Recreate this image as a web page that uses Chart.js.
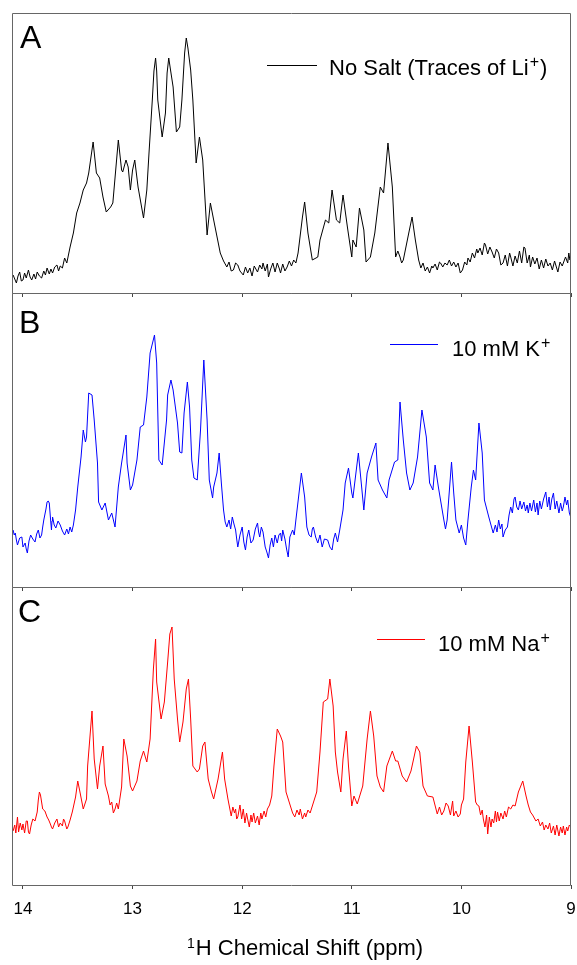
<!DOCTYPE html>
<html><head><meta charset="utf-8">
<script src="https://cdn.jsdelivr.net/npm/chart.js@4"></script>
<style>
html,body{margin:0;padding:0;background:#fff;width:577px;height:965px;overflow:hidden}
canvas{position:absolute;left:0}
</style></head><body>
<canvas id="cA" width="577" height="300" style="top:0px"></canvas>
<canvas id="cB" width="577" height="301" style="top:293px"></canvas>
<canvas id="cC" width="577" height="378" style="top:587px"></canvas>
<script>
// ---- data (chemical shift in ppm, intensity in arbitrary units) ----
const xTicks = [14, 13, 12, 11, 10, 9];

const shiftA = [
14.09,14.075,14.06,14.045,14.03,14.015,14.00,13.985,13.97,13.95,
13.935,13.92,13.90,13.885,13.87,13.85,13.83,13.81,13.795,13.78,
13.76,13.745,13.73,13.71,13.69,13.675,13.66,13.64,
13.62,13.60,13.57,13.54,13.51,13.48,13.45,13.42,13.40,13.36,
13.33,13.30,13.27,13.24,13.20,13.18,13.13,13.10,13.09,13.06,
13.04,13.02,13.00,12.98,12.95,12.90,12.87,12.85,12.82,12.805,
12.79,12.78,12.77,12.73,12.70,12.685,12.67,12.655,12.63,12.60,
12.57,12.55,12.525,12.51,12.495,12.47,12.45,12.42,12.39,12.36,
12.32,12.29,12.26,
12.20,12.17,12.14,12.12,12.10,12.08,12.06,12.04,12.02,11.99,
11.97,11.95,11.93,11.91,11.89,11.86,11.84,11.82,11.81,11.79,
11.77,11.76,11.74,11.72,11.70,11.68,11.66,11.65,11.63,11.61,
11.59,11.57,11.55,11.53,11.51,11.49,
11.45,11.43,11.40,11.36,11.31,11.29,11.24,11.21,11.18,11.14,
11.11,11.08,11.04,11.00,10.99,10.96,10.93,10.89,10.87,10.83,
10.79,10.74,10.71,10.67,10.63,10.60,10.58,10.56,10.545,10.53,
10.48,10.45,10.42,
10.39,10.37,10.35,10.33,10.31,10.29,10.27,10.26,10.24,10.22,
10.20,10.19,10.17,10.15,10.13,10.11,10.09,10.07,10.05,10.03,
10.01,9.99,9.97,9.95,9.94,9.92,9.90,9.88,9.86,9.85,
9.83,9.81,9.79,9.78,9.76,9.74,9.72,9.70,9.68,9.66,
9.64,9.62,9.60,9.58,9.56,9.55,9.53,9.51,9.49,9.47,
9.45,9.43,9.42,9.40,9.38,9.37,9.35,9.33,9.31,9.29,
9.27,9.25,9.23,9.21,9.19,9.17,9.15,9.12,9.10,9.08,
9.07,9.05,9.03,9.02,9.01,9.00];
const noSalt = [
18,14,10,17,21,12,13,20,15,23,
16,13,19,14,21,17,15,22,18,25,
19,24,20,26,28,22,27,25,
35,30,46,60,80,90,103,110,120,151,
120,115,96,81,86,90,153,123,121,133,
126,103,123,133,106,75,103,140,193,222,
235,222,193,156,180,220,235,224,206,161,
166,193,240,255,245,223,193,130,156,133,
58,90,73,
40,32,26,31,22,23,30,28,22,18,
26,20,25,17,27,21,28,24,30,22,
29,16,24,30,21,30,24,20,29,22,
26,32,27,33,30,40,
76,91,60,33,36,53,73,70,103,73,
70,98,66,36,53,46,85,63,31,36,
60,106,100,150,106,36,42,36,30,33,
60,76,53,
33,25,30,22,26,20,27,25,29,23,
31,30,26,30,28,33,27,31,26,30,
20,23,31,28,35,31,40,35,44,40,
45,38,50,48,39,46,41,35,44,40,
28,30,38,27,40,36,27,37,30,42,
30,46,45,30,38,26,36,29,35,24,
33,25,34,27,30,23,32,21,31,27,
30,36,30,40,33,35];

const shiftB = [
14.09,14.08,14.07,14.06,14.05,14.03,14.01,14.00,13.98,13.97,
13.96,13.945,13.93,13.91,13.89,13.875,13.86,13.845,13.83,13.82,
13.81,13.79,13.78,13.77,13.76,13.75,13.74,13.735,13.73,13.715,
13.70,13.68,13.66,13.64,13.62,13.60,13.585,13.57,13.555,13.54,
13.52,13.50,13.47,13.45,13.43,13.42,13.40,13.37,13.35,13.32,
13.31,13.28,13.25,13.22,13.19,13.16,13.13,13.10,13.06,13.05,
13.02,13.00,12.96,12.93,12.90,12.87,12.84,12.80,12.78,12.76,
12.73,12.69,12.68,12.65,12.63,12.59,12.57,12.55,12.53,12.50,
12.48,12.46,12.44,12.41,12.38,12.35,12.32,12.30,12.27,12.26,
12.23,12.21,12.19,
12.17,12.155,12.14,12.12,12.105,12.09,12.075,12.06,12.05,12.04,
12.02,12.00,11.985,11.97,11.955,11.94,11.92,11.90,11.88,11.86,
11.85,11.84,11.825,11.81,11.79,11.775,11.76,11.745,11.73,11.715,
11.70,11.68,11.665,11.65,11.64,11.63,11.61,11.595,11.58,11.565,
11.54,11.525,11.51,
11.46,11.43,
11.41,11.39,11.37,11.36,11.35,11.33,11.31,11.29,11.27,11.25,
11.22,11.20,11.18,11.165,11.15,11.13,11.11,
11.08,11.06,11.03,11.00,10.99,10.94,10.91,10.89,10.86,10.82,
10.78,10.76,10.72,10.68,10.66,10.61,10.58,10.56,10.53,10.50,
10.47,10.44,10.40,10.36,10.32,10.29,10.26,10.24,10.21,10.16,
10.145,10.13,10.09,10.07,10.05,10.02,10.00,9.98,9.96,9.94,
9.91,9.89,9.87,9.84,9.81,9.79,9.75,
9.71,9.69,9.675,9.66,9.645,9.63,9.62,9.60,9.58,9.565,
9.55,9.535,9.52,9.51,9.495,9.48,9.465,9.45,9.43,9.415,
9.40,9.39,9.375,9.36,9.34,9.325,9.31,9.30,9.285,9.27,
9.25,9.23,9.215,9.20,9.19,9.175,9.16,9.145,9.13,9.11,
9.095,9.08,9.07,9.055,9.04,9.03,9.015,9.00];
const potassium = [
57,52,54,47,42,49,50,40,44,38,
34,46,52,48,45,53,57,49,52,60,
67,78,85,86,84,70,57,66,70,62,
59,66,62,56,52,58,53,60,55,62,
77,100,130,157,145,150,194,192,167,124,
85,77,84,67,74,60,100,124,152,124,
97,102,127,160,162,190,234,252,224,127,
122,167,192,207,197,164,135,134,174,205,
180,127,109,107,157,227,167,107,89,100,
114,134,104,
77,65,60,67,58,70,63,57,48,40,
52,60,45,37,50,57,44,47,58,64,
55,50,60,55,40,35,29,42,49,40,
52,44,52,54,46,57,48,38,30,50,
57,52,67,
114,90,
60,52,50,58,60,50,44,52,40,48,
47,40,37,48,54,45,57,
77,104,119,94,89,134,100,77,114,130,
144,107,97,89,107,125,127,185,147,114,
97,104,130,177,150,104,97,122,100,67,
58,67,125,94,67,54,62,49,42,67,
100,117,107,164,134,87,70,
54,62,55,67,58,63,50,57,60,72,
80,74,88,90,80,77,86,78,85,76,
82,74,84,76,87,75,84,72,86,78,
88,95,80,90,77,88,94,78,86,74,
84,76,80,90,82,87,74,69];

const shiftC = [
14.09,14.075,14.065,14.05,14.04,14.025,14.01,14.00,13.985,13.97,
13.96,13.95,13.94,13.925,13.91,13.89,13.87,13.86,13.85,13.84,
13.82,13.80,13.78,13.765,13.75,13.74,13.73,13.71,13.69,13.675,
13.66,13.64,13.63,13.62,13.60,13.59,13.57,13.55,
13.52,13.50,13.48,13.45,13.42,13.41,13.37,13.35,13.32,13.30,
13.27,13.25,13.22,13.205,13.19,13.175,13.16,13.145,13.13,13.10,
13.08,13.05,13.02,13.00,12.96,12.93,12.90,12.87,12.84,12.81,
12.79,12.78,12.74,12.71,12.68,12.66,12.64,12.62,12.59,12.57,
12.54,12.51,12.49,12.47,12.45,12.41,12.39,12.36,12.34,12.31,
12.28,12.26,12.22,12.18,12.16,12.13,
12.10,12.085,12.07,12.06,12.05,12.04,12.02,12.005,11.99,11.975,
11.96,11.95,11.935,11.92,11.91,11.895,11.88,11.86,11.845,11.83,
11.82,11.80,11.785,11.77,11.75,11.73,
11.71,11.68,11.65,11.63,11.60,
11.56,11.54,11.52,11.50,11.48,11.47,11.45,11.43,11.42,11.40,
11.38,11.36,
11.32,11.29,11.26,11.22,11.20,11.17,11.15,11.13,11.10,11.08,
11.05,11.03,11.00,10.98,10.95,10.90,10.86,10.83,10.80,10.77,
10.74,10.71,10.68,10.63,10.60,10.58,10.54,10.50,10.46,10.41,
10.38,10.35,10.31,10.26,
10.22,10.20,10.18,10.16,10.14,10.12,10.10,10.08,10.07,10.05,
10.03,10.01,10.00,9.98,
9.96,9.93,9.90,
9.87,9.855,9.84,9.825,9.81,9.80,9.785,9.77,9.76,9.745,
9.73,9.72,9.705,9.69,9.68,9.67,9.655,9.64,9.62,9.605,
9.59,9.57,9.55,9.53,9.51,9.48,9.44,9.41,9.39,9.37,
9.35,9.32,9.30,9.28,9.26,9.245,9.23,9.21,9.195,9.18,
9.16,9.145,9.13,9.11,9.095,9.08,9.07,9.055,9.04,9.03,
9.015,9.00];
const sodium = [
54,60,52,68,53,62,55,61,52,64,
64,53,51,60,66,64,73,85,93,90,
76,74,68,65,61,58,56,62,66,58,
62,59,66,64,56,58,65,73,
88,104,93,76,86,119,174,126,96,119,
139,101,89,80,83,72,76,82,76,98,
146,129,99,94,104,124,134,123,146,216,
246,203,166,183,223,251,258,206,166,143,
163,196,206,166,119,113,116,139,143,106,
93,86,106,133,106,86,
69,78,72,76,66,68,80,66,76,62,
72,66,58,70,63,72,62,69,60,72,
66,74,68,76,80,89,
119,156,149,143,93,
79,72,68,75,70,76,66,72,68,75,
72,79,
93,133,183,186,206,179,133,113,93,126,
154,119,79,89,81,99,146,174,149,109,
98,93,119,134,124,124,109,103,114,139,
133,99,89,88,
71,78,70,74,82,79,70,84,69,74,
68,71,80,86,
123,159,123,
83,80,79,70,75,66,58,70,51,68,
58,66,62,74,63,73,64,72,66,74,
68,78,76,80,79,93,104,89,80,73,
70,64,66,59,63,55,60,56,62,52,
59,50,60,49,58,52,59,50,58,54,
60,58];

const FONT = '"Liberation Sans", Arial, sans-serif';

// draws frame, panel letter, legend entry and (bottom panel) axis title
const panelText = {
  id: 'panelText',
  afterDraw(chart, args, o) {
    const ctx = chart.ctx, ca = chart.chartArea;
    ctx.save();
    ctx.strokeStyle = '#666';
    ctx.lineWidth = 1;
    const l = Math.round(ca.left) + 0.5, r = Math.round(ca.right) - 0.5;
    const t = Math.round(ca.top) + 0.5, b = Math.round(ca.bottom) + 0.5;
    ctx.beginPath();
    ctx.moveTo(l, t); ctx.lineTo(r, t); ctx.lineTo(r, b); ctx.lineTo(l, b); ctx.closePath();
    ctx.stroke();

    ctx.fillStyle = '#000';
    ctx.textBaseline = 'alphabetic';
    ctx.textAlign = 'left';
    ctx.font = '32px ' + FONT;
    ctx.fillText(o.letter, o.letterX, o.letterY);

    ctx.strokeStyle = o.color;
    ctx.beginPath();
    ctx.moveTo(o.lineX1, o.lineY + 0.5);
    ctx.lineTo(o.lineX2, o.lineY + 0.5);
    ctx.stroke();

    let x = o.textX;
    ctx.font = '22px ' + FONT;
    ctx.fillText(o.label, x, o.textY);
    x += ctx.measureText(o.label).width + 1;
    ctx.font = '16px ' + FONT;
    ctx.fillText('+', x, o.textY - 8);
    x += ctx.measureText('+').width + 1;
    if (o.tail) {
      ctx.font = '22px ' + FONT;
      ctx.fillText(o.tail, x, o.textY);
    }

    if (o.axisTitle) {
      ctx.font = '14px ' + FONT;
      ctx.fillText('1', o.axisTitle.x, o.axisTitle.y - 7);
      const w = ctx.measureText('1').width;
      ctx.font = '22px ' + FONT;
      ctx.fillText(o.axisTitle.text, o.axisTitle.x + w + 1, o.axisTitle.y);
    }
    ctx.restore();
  }
};

function makeChart(id, xs, ys, color, yMax, padTop, axisH, showLabels, textOpts) {
  return new Chart(document.getElementById(id), {
    type: 'line',
    data: {
      datasets: [{
        data: xs.map((x, i) => ({ x: x, y: ys[i] })),
        borderColor: color,
        borderWidth: 1,
        pointRadius: 0,
        tension: 0,
        fill: false
      }]
    },
    options: {
      responsive: false,
      animation: false,
      devicePixelRatio: 1,
      layout: { padding: { left: 12, right: 6, top: padTop, bottom: 0 } },
      plugins: {
        legend: { display: false },
        tooltip: { enabled: false },
        panelText: Object.assign({ color: color }, textOpts)
      },
      scales: {
        x: {
          type: 'linear', reverse: true, min: 9, max: 14.1,
          afterBuildTicks: s => { s.ticks = xTicks.map(v => ({ value: v })); },
          afterFit: s => { s.height = axisH; s.paddingLeft = 0; s.paddingRight = 0; },
          grid: { display: true, drawOnChartArea: false, drawTicks: true, tickLength: 4, color: '#444', lineWidth: 1 },
          border: { display: false },
          ticks: { display: showLabels, font: { family: FONT, size: 17 }, color: '#000', padding: 10, maxRotation: 0, autoSkip: false }
        },
        y: { display: false, min: 0, max: yMax }
      }
    },
    plugins: [panelText]
  });
}

makeChart('cA', shiftA, noSalt, '#000000', 280, 13, 7, false, {
  letter: 'A', letterX: 20, letterY: 48,
  lineX1: 267, lineX2: 317, lineY: 65,
  label: 'No Salt (Traces of Li', tail: ')', textX: 329, textY: 75
});
makeChart('cB', shiftB, potassium, '#0000ff', 294, 0, 7, false, {
  letter: 'B', letterX: 19, letterY: 40,
  lineX1: 390, lineX2: 438, lineY: 51,
  label: '10 mM K', tail: '', textX: 452, textY: 63
});
makeChart('cC', shiftC, sodium, '#ff0000', 298, 0, 80, true, {
  letter: 'C', letterX: 18, letterY: 35,
  lineX1: 377, lineX2: 425, lineY: 52,
  label: '10 mM Na', tail: '', textX: 438, textY: 64,
  axisTitle: { text: 'H Chemical Shift (ppm)', x: 187, y: 368 }
});
</script>
</body></html>
